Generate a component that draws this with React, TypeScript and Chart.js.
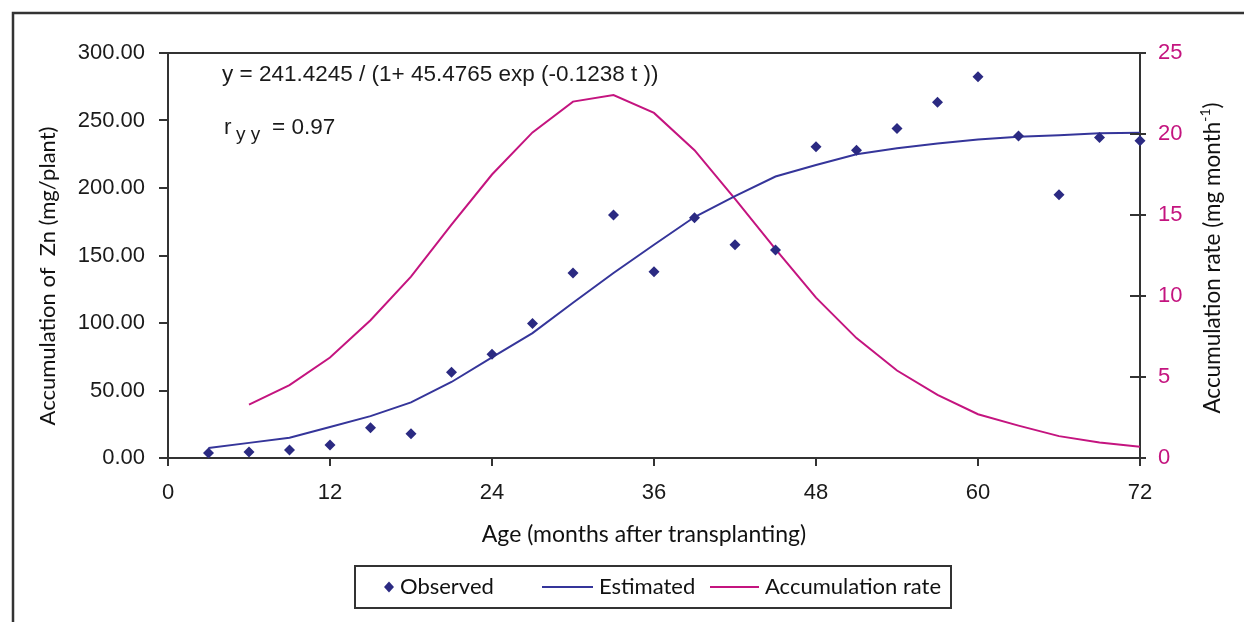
import React, { useEffect, useRef } from "react";
import { Chart, registerables } from "chart.js";

Chart.register(...registerables);

// ---- data ----
const months = [3, 6, 9, 12, 15, 18, 21, 24, 27, 30, 33, 36, 39, 42, 45, 48, 51, 54, 57, 60, 63, 66, 69, 72];
const observed = [3.7, 4.4, 6.0, 9.6, 22.4, 18.0, 63.5, 76.8, 99.7, 137.0, 180.0, 138.0, 178.0, 158.0, 154.0, 230.5, 228.0, 244.0, 263.5, 282.5, 238.5, 195.0, 237.5, 235.0];
const estimated = [7.4, 11.2, 15.0, 23.0, 31.0, 41.2, 56.3, 74.5, 92.5, 115.0, 137.0, 158.0, 178.5, 194.0, 208.5, 217.0, 225.0, 229.5, 233.0, 236.0, 238.0, 239.0, 240.5, 241.0];
const rateMonths = [6, 9, 12, 15, 18, 21, 24, 27, 30, 33, 36, 39, 42, 45, 48, 51, 54, 57, 60, 63, 66, 69, 72];
const rate = [3.3, 4.5, 6.2, 8.5, 11.2, 14.4, 17.5, 20.1, 22.0, 22.4, 21.3, 19.0, 16.0, 12.9, 9.9, 7.4, 5.4, 3.9, 2.7, 2.0, 1.35, 0.95, 0.7];
const xTicks = [0, 12, 24, 36, 48, 60, 72];
const leftTicks = [0, 50, 100, 150, 200, 250, 300];
const rightTicks = [0, 5, 10, 15, 20, 25];

const NAVY_PT = "#2B2A82";
const NAVY_LN = "#35359A";
const MAGENTA = "#C4147F";
const AXIS = "#333333";
const TICKFONT = "'Liberation Sans', Arial, sans-serif";
const TITLEFONT = "Lato, 'Open Sans', sans-serif";

const W = 1244;
const H = 622;

const decor = {
  id: "decor",
  afterDraw(chart: any) {
    const ctx: CanvasRenderingContext2D = chart.ctx;
    const { left, right, top } = chart.chartArea;
    const y1 = chart.scales.y1;
    ctx.save();

    // outer frame
    ctx.strokeStyle = "#333";
    ctx.lineWidth = 2.5;
    ctx.beginPath();
    ctx.moveTo(13, H + 2);
    ctx.lineTo(13, 13);
    ctx.lineTo(W + 2, 13);
    ctx.stroke();

    // top border of plot area
    ctx.strokeStyle = AXIS;
    ctx.lineWidth = 2;
    ctx.beginPath();
    ctx.moveTo(left, top);
    ctx.lineTo(right, top);
    ctx.stroke();

    // inner half of right-axis ticks
    ctx.beginPath();
    for (const v of rightTicks) {
      const py = y1.getPixelForValue(v);
      ctx.moveTo(right - 10, py);
      ctx.lineTo(right, py);
    }
    ctx.stroke();

    // equation annotations
    ctx.fillStyle = "#1a1a1a";
    ctx.textBaseline = "middle";
    ctx.textAlign = "left";
    ctx.font = `22.5px ${TICKFONT}`;
    ctx.fillText("y = 241.4245 / (1+ 45.4765 exp (-0.1238 t ))", 222, 75);
    ctx.fillText("r", 224, 128);
    ctx.font = `19px ${TICKFONT}`;
    ctx.fillText("y y", 236, 135);
    ctx.font = `22.5px ${TICKFONT}`;
    ctx.fillText("= 0.97", 272, 128);

    // axis titles
    ctx.fillStyle = "#111";
    ctx.font = `23px ${TITLEFONT}`;
    ctx.textAlign = "center";
    ctx.fillText("Age (months after transplanting)", 644, 535);

    ctx.save();
    ctx.translate(48, 276);
    ctx.rotate(-Math.PI / 2);
    ctx.font = `22px ${TITLEFONT}`;
    ctx.fillText("Accumulation of  Zn (mg/plant)", 0, 0);
    ctx.restore();

    // right title with superscript
    ctx.save();
    ctx.translate(1213, 258);
    ctx.rotate(-Math.PI / 2);
    const main = "Accumulation rate (mg month";
    const sup = "-1";
    const close = ")";
    ctx.font = `22.5px ${TITLEFONT}`;
    const wMain = ctx.measureText(main).width;
    const wClose = ctx.measureText(close).width;
    ctx.font = `14px ${TITLEFONT}`;
    const wSup = ctx.measureText(sup).width;
    const total = wMain + wSup + wClose;
    const x0 = -total / 2;
    ctx.textAlign = "left";
    ctx.font = `22.5px ${TITLEFONT}`;
    ctx.fillText(main, x0, 0);
    ctx.font = `14px ${TITLEFONT}`;
    ctx.fillText(sup, x0 + wMain, -8);
    ctx.font = `22.5px ${TITLEFONT}`;
    ctx.fillText(close, x0 + wMain + wSup, 0);
    ctx.restore();

    // legend
    ctx.strokeStyle = "#333";
    ctx.lineWidth = 2;
    ctx.strokeRect(355, 566, 596, 42);
    const ly = 587;
    ctx.fillStyle = NAVY_PT;
    ctx.beginPath();
    ctx.moveTo(389, ly - 5.5);
    ctx.lineTo(394, ly);
    ctx.lineTo(389, ly + 5.5);
    ctx.lineTo(384, ly);
    ctx.closePath();
    ctx.fill();
    ctx.lineWidth = 2;
    ctx.strokeStyle = NAVY_LN;
    ctx.beginPath();
    ctx.moveTo(542, ly);
    ctx.lineTo(593, ly);
    ctx.stroke();
    ctx.strokeStyle = MAGENTA;
    ctx.beginPath();
    ctx.moveTo(710, ly);
    ctx.lineTo(759, ly);
    ctx.stroke();
    ctx.fillStyle = "#111";
    ctx.textAlign = "left";
    ctx.font = `22px ${TITLEFONT}`;
    ctx.fillText("Observed", 400, ly);
    ctx.fillText("Estimated", 599, ly);
    ctx.fillText("Accumulation rate", 765, ly);

    ctx.restore();
  },
};

export default function App() {
  const ref = useRef<HTMLCanvasElement>(null);

  useEffect(() => {
    if (!ref.current) return;
    const chart = new Chart(ref.current, {
      type: "line",
      data: {
        datasets: [
          {
            label: "Observed",
            data: months.map((m, i) => ({ x: m, y: observed[i] })),
            showLine: false,
            pointStyle: "rectRot",
            pointRadius: 5.5,
            pointBackgroundColor: NAVY_PT,
            pointBorderWidth: 0,
            borderColor: NAVY_PT,
            yAxisID: "y",
            clip: false,
          } as any,
          {
            label: "Estimated",
            data: months.map((m, i) => ({ x: m, y: estimated[i] })),
            borderColor: NAVY_LN,
            borderWidth: 2,
            pointRadius: 0,
            tension: 0,
            yAxisID: "y",
          },
          {
            label: "Accumulation rate",
            data: rateMonths.map((m, i) => ({ x: m, y: rate[i] })),
            borderColor: MAGENTA,
            borderWidth: 2,
            pointRadius: 0,
            tension: 0,
            yAxisID: "y1",
          },
        ],
      },
      options: {
        responsive: false,
        animation: false,
        devicePixelRatio: 1,
        layout: { padding: { top: 53, left: 0, right: 0, bottom: 0 } },
        plugins: { legend: { display: false }, tooltip: { enabled: false } },
        scales: {
          x: {
            type: "linear",
            min: 0,
            max: 72,
            afterBuildTicks: (s: any) => {
              s.ticks = xTicks.map((v) => ({ value: v }));
            },
            ticks: { color: "#1a1a1a", font: { family: TICKFONT, size: 22 }, padding: 14, maxRotation: 0 },
            grid: { drawOnChartArea: false, tickLength: 8, color: AXIS, lineWidth: 2 },
            border: { display: true, color: AXIS, width: 2 },
            afterFit: (s: any) => {
              s.height = 164;
            },
          },
          y: {
            position: "left",
            min: 0,
            max: 300,
            afterBuildTicks: (s: any) => {
              s.ticks = leftTicks.map((v) => ({ value: v }));
            },
            ticks: {
              color: "#1a1a1a",
              font: { family: TICKFONT, size: 22 },
              padding: 14,
              callback: (v: any) => Number(v).toFixed(2),
            },
            grid: { drawOnChartArea: false, tickLength: 9, color: AXIS, lineWidth: 2 },
            border: { display: true, color: AXIS, width: 2 },
            afterFit: (s: any) => {
              s.width = 168;
            },
          },
          y1: {
            position: "right",
            min: 0,
            max: 25,
            afterBuildTicks: (s: any) => {
              s.ticks = rightTicks.map((v) => ({ value: v }));
            },
            ticks: { color: MAGENTA, font: { family: TICKFONT, size: 22 }, padding: 12 },
            grid: { drawOnChartArea: false, tickLength: 6, color: AXIS, lineWidth: 2 },
            border: { display: true, color: AXIS, width: 2 },
            afterFit: (s: any) => {
              s.width = W - 1140;
            },
          },
        },
      },
      plugins: [decor],
    });
    return () => chart.destroy();
  }, []);

  return (
    <div style={{ position: "absolute", left: 0, top: 0, width: W, height: H, background: "#fff" }}>
      <canvas ref={ref} width={W} height={H} style={{ display: "block", width: W, height: H }} />
    </div>
  );
}
